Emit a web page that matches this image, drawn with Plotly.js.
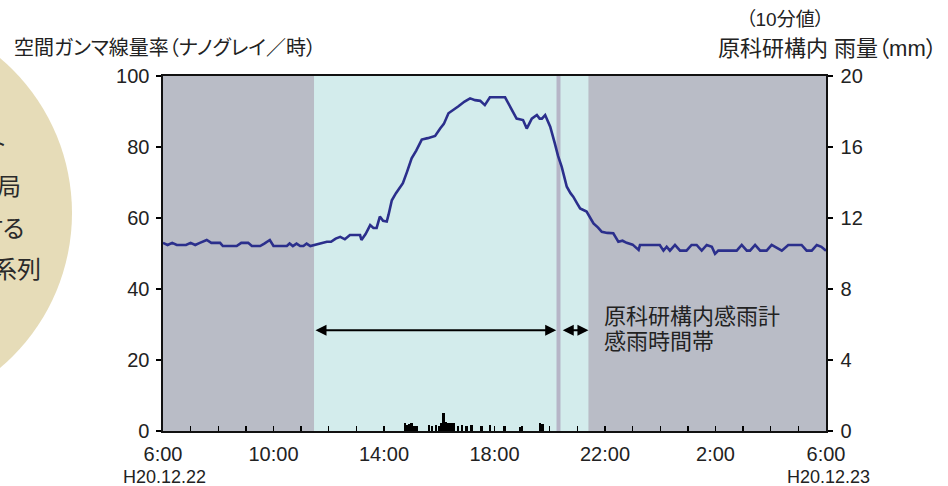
<!DOCTYPE html>
<html><head><meta charset="utf-8">
<script src="https://cdn.plot.ly/plotly-3.0.1.min.js"></script>
<style>
html,body{margin:0;padding:0;background:#fff;}
text{font-feature-settings:"palt" 1;}
</style>
</head><body>
<div id="chart" style="width:948px;height:486px;"></div>
<script>
// Air dose rate (nGy/h), 10-minute values
const doseTimes = [
'2008-12-22 06:00','2008-12-22 06:10','2008-12-22 06:20','2008-12-22 06:30','2008-12-22 06:40','2008-12-22 06:50',
'2008-12-22 07:00','2008-12-22 07:10','2008-12-22 07:20','2008-12-22 07:35','2008-12-22 07:45','2008-12-22 08:04',
'2008-12-22 08:10','2008-12-22 08:40','2008-12-22 08:50','2008-12-22 09:05','2008-12-22 09:13','2008-12-22 09:31',
'2008-12-22 09:40','2008-12-22 09:52','2008-12-22 10:00','2008-12-22 10:29','2008-12-22 10:35','2008-12-22 10:42',
'2008-12-22 10:50','2008-12-22 10:58','2008-12-22 11:05','2008-12-22 11:12','2008-12-22 11:20','2008-12-22 11:28',
'2008-12-22 11:40','2008-12-22 11:56','2008-12-22 12:05','2008-12-22 12:15','2008-12-22 12:25','2008-12-22 12:35',
'2008-12-22 12:46','2008-12-22 13:08','2008-12-22 13:11','2008-12-22 13:20','2008-12-22 13:30','2008-12-22 13:37',
'2008-12-22 13:44','2008-12-22 13:51','2008-12-22 13:58','2008-12-22 14:06','2008-12-22 14:10','2008-12-22 14:17',
'2008-12-22 14:26','2008-12-22 14:35','2008-12-22 14:41','2008-12-22 14:50','2008-12-22 15:00','2008-12-22 15:10',
'2008-12-22 15:22','2008-12-22 15:35','2008-12-22 15:51','2008-12-22 16:02','2008-12-22 16:10','2008-12-22 16:20',
'2008-12-22 16:30','2008-12-22 16:41','2008-12-22 16:55','2008-12-22 17:07','2008-12-22 17:18','2008-12-22 17:29',
'2008-12-22 17:39','2008-12-22 17:50','2008-12-22 18:23','2008-12-22 18:35','2008-12-22 18:48','2008-12-22 19:02',
'2008-12-22 19:10','2008-12-22 19:21','2008-12-22 19:32','2008-12-22 19:38','2008-12-22 19:43','2008-12-22 19:50',
'2008-12-22 20:01','2008-12-22 20:11','2008-12-22 20:18','2008-12-22 20:26','2008-12-22 20:37','2008-12-22 20:45',
'2008-12-22 20:51','2008-12-22 21:00','2008-12-22 21:06','2008-12-22 21:20','2008-12-22 21:35','2008-12-22 21:45',
'2008-12-22 21:53','2008-12-22 22:05','2008-12-22 22:18','2008-12-22 22:23','2008-12-22 22:29','2008-12-22 22:38',
'2008-12-22 22:47','2008-12-22 23:00','2008-12-22 23:13','2008-12-22 23:16','2008-12-22 23:59',
'2008-12-23 00:07','2008-12-23 00:14','2008-12-23 00:21','2008-12-23 00:32','2008-12-23 00:43','2008-12-23 00:57',
'2008-12-23 01:08','2008-12-23 01:19','2008-12-23 01:30','2008-12-23 01:41','2008-12-23 01:52','2008-12-23 01:59',
'2008-12-23 02:06','2008-12-23 02:46','2008-12-23 02:57','2008-12-23 03:08','2008-12-23 03:15','2008-12-23 03:26',
'2008-12-23 03:37','2008-12-23 03:51','2008-12-23 04:02','2008-12-23 04:13','2008-12-23 04:24','2008-12-23 04:38',
'2008-12-23 05:07','2008-12-23 05:18','2008-12-23 05:29','2008-12-23 05:40','2008-12-23 05:50','2008-12-23 06:00'
];
const doseValues = [
53.0,52.4,53.0,52.4,52.4,52.4,
53.0,52.4,53.0,53.8,53.0,53.0,
52.1,52.1,53.0,53.0,52.1,52.1,
52.8,53.8,52.1,52.1,52.8,52.1,
52.8,52.1,52.1,52.8,52.1,52.4,
52.8,53.3,53.3,54.2,54.7,54.0,
55.2,55.2,53.8,55.5,58.0,57.2,
57.2,60.4,59.2,59.0,61.0,65.0,
67.0,68.8,69.8,73.0,76.8,79.0,
82.1,82.5,83.1,85.2,86.5,89.5,
90.3,91.4,92.8,93.7,93.2,93.0,
91.8,94.0,94.0,91.0,88.0,87.6,
85.2,88.0,89.0,88.0,88.0,89.0,
85.7,81.0,77.5,74.4,68.8,67.0,
66.0,64.0,62.7,61.8,58.5,57.3,
56.1,55.8,55.7,54.6,53.3,53.6,
53.0,52.5,51.0,52.4,52.4,
50.8,51.9,50.8,52.4,50.8,50.8,
52.4,52.4,50.8,52.4,51.9,49.9,
50.8,50.8,52.4,50.8,50.8,52.4,
50.8,50.8,52.4,51.5,50.8,52.4,
52.4,50.8,50.8,52.4,51.9,50.8
];
// Rainfall (mm) at the JAEA site
const rainTimes = [
'2008-12-22 14:46','2008-12-22 14:50','2008-12-22 14:55','2008-12-22 15:00','2008-12-22 15:06','2008-12-22 15:11',
'2008-12-22 15:38','2008-12-22 15:44','2008-12-22 15:53','2008-12-22 15:59','2008-12-22 16:04','2008-12-22 16:09',
'2008-12-22 16:14','2008-12-22 16:20','2008-12-22 16:25','2008-12-22 16:31','2008-12-22 16:41','2008-12-22 16:49',
'2008-12-22 16:58','2008-12-22 17:10','2008-12-22 17:32','2008-12-22 17:50','2008-12-22 18:22','2008-12-22 18:55',
'2008-12-22 19:39','2008-12-22 19:44'
];
const rainValues = [
0.45,0.35,0.40,0.45,0.30,0.30,
0.35,0.30,0.35,0.30,0.45,1.00,
0.50,0.45,0.45,0.45,0.30,0.35,
0.30,0.35,0.30,0.35,0.30,0.25,
0.45,0.40
];
// Rain-sensor periods
const rainPeriodStart = '2008-12-22 11:28';
const rainPeriodBreak = '2008-12-22 20:19';
const rainPeriodEnd = '2008-12-22 21:24';
const arrowOneEnd = '2008-12-22 20:14';
const arrowTwoStart = '2008-12-22 20:25';
const arrowY = 28.4;
// Axis ticks
const xRange = ['2008-12-22 06:00','2008-12-23 06:00'];
const xTickVals = ['2008-12-22 06:00','2008-12-22 10:00','2008-12-22 14:00','2008-12-22 18:00','2008-12-22 22:00','2008-12-23 02:00','2008-12-23 06:00'];
const xTickText = ['6:00','10:00','14:00','18:00','22:00','2:00','6:00'];
const dateLabels = ['H20.12.22','H20.12.23'];
const circleLines = ['モニタリングポスト','観測局','に関する','時系列'];

const FONT = 'Liberation Sans, Noto Sans CJK JP, sans-serif';
const TXT = '#222';
const W = 948, H = 486, ML = 163, MR = 122, MT = 76, MB = 55;
const PW = W - ML - MR, PH = H - MT - MB;
const px = x => (x - ML) / PW;
const py = y => (H - MB - y) / PH;

const traces = [
  {type:'scatter', mode:'lines', x:doseTimes, y:doseValues, xaxis:'x', yaxis:'y',
   line:{color:'#2b2f8c', width:2.6}, hoverinfo:'skip'},
  {type:'bar', x:rainTimes, y:rainValues, xaxis:'x', yaxis:'y2', width:330000,
   marker:{color:'#000', line:{width:0}}, hoverinfo:'skip'}
];

const annotations = [
  {xref:'paper', yref:'paper', x:px(12), y:py(48), xanchor:'left', yanchor:'middle', showarrow:false,
   text:'空間ガンマ線量率（ナノグレイ／時）', font:{family:FONT, size:20, color:TXT}},
  {xref:'paper', yref:'paper', x:px(744), y:py(20), xanchor:'left', yanchor:'middle', showarrow:false,
   text:'（10分値）', font:{family:FONT, size:19, color:TXT}},
  {xref:'paper', yref:'paper', x:px(716), y:py(48), xanchor:'left', yanchor:'middle', showarrow:false,
   text:'原科研構内 雨量（mm）', font:{family:FONT, size:22, color:TXT}},
  {xref:'paper', yref:'paper', x:px(602), y:py(316), xanchor:'left', yanchor:'middle', showarrow:false,
   text:'原科研構内感雨計', font:{family:FONT, size:22, color:TXT}},
  {xref:'paper', yref:'paper', x:px(602), y:py(341), xanchor:'left', yanchor:'middle', showarrow:false,
   text:'感雨時間帯', font:{family:FONT, size:22, color:TXT}},
  {xref:'paper', yref:'paper', x:px(164), y:py(477), xanchor:'center', yanchor:'middle', showarrow:false,
   text:dateLabels[0], font:{family:FONT, size:18, color:TXT}},
  {xref:'paper', yref:'paper', x:px(828), y:py(477), xanchor:'center', yanchor:'middle', showarrow:false,
   text:dateLabels[1], font:{family:FONT, size:18, color:TXT}},
  {xref:'x', yref:'y', x:arrowOneEnd, y:arrowY, axref:'x', ayref:'y', ax:rainPeriodStart, ay:arrowY,
   text:'', showarrow:true, arrowside:'end+start', arrowhead:2, arrowsize:1.1, arrowwidth:2, arrowcolor:'#000'},
  {xref:'x', yref:'y', x:rainPeriodEnd, y:arrowY, axref:'x', ayref:'y', ax:arrowTwoStart, ay:arrowY,
   text:'', showarrow:true, arrowside:'end+start', arrowhead:2, arrowsize:1.1, arrowwidth:2, arrowcolor:'#000'}
];
const circleRight = [8, 23, 26, 43];
const circleY = [143, 186, 228, 269];
circleLines.forEach((t, i) => {
  annotations.push({xref:'paper', yref:'paper', x:px(circleRight[i]), y:py(circleY[i]), xanchor:'right', yanchor:'middle',
    showarrow:false, text:t, font:{family:FONT, size:24, color:'#2a2a2a'}});
});

const shapes = [
  {type:'circle', xref:'paper', yref:'paper', x0:px(-334), x1:px(72), y0:py(416), y1:py(10),
   fillcolor:'#e6dcb8', line:{width:0}, layer:'below'},
  {type:'rect', xref:'x', yref:'paper', x0:rainPeriodStart, x1:rainPeriodEnd, y0:0, y1:1,
   fillcolor:'#d3ecec', line:{width:0}, layer:'below'},
  {type:'line', xref:'x', yref:'paper', x0:rainPeriodBreak, x1:rainPeriodBreak, y0:0, y1:1,
   line:{color:'#b6b5c7', width:4}, layer:'below'}
];

const layout = {
  width:W, height:H, margin:{l:ML, r:MR, t:MT, b:MB, pad:0},
  paper_bgcolor:'#fff', plot_bgcolor:'#b9bcc6', showlegend:false,
  font:{family:FONT, color:TXT},
  bargap:0,
  xaxis:{type:'date', range:xRange, tickmode:'array', tickvals:xTickVals, ticktext:xTickText,
    ticks:'inside', ticklen:5, tickwidth:1.3, tickcolor:'#000',
    minor:{dtick:3600000, tick0:'2008-12-22 06:00', ticks:'inside', ticklen:5, tickwidth:1.3, tickcolor:'#000', showgrid:false},
    showline:true, linecolor:'#111', linewidth:1.6, mirror:true, showgrid:false, zeroline:false,
    tickfont:{family:FONT, size:20, color:TXT}, ticklabelstandoff:4, fixedrange:true},
  yaxis:{range:[0,100], tickmode:'array', tickvals:[0,20,40,60,80,100], ticks:'outside', ticklen:5, tickwidth:1.3, tickcolor:'#000',
    showline:true, linecolor:'#111', linewidth:1.6, showgrid:false, zeroline:false,
    tickfont:{family:FONT, size:20, color:TXT}, ticklabelstandoff:3, fixedrange:true},
  yaxis2:{range:[0,20], overlaying:'y', side:'right', tickmode:'array', tickvals:[0,4,8,12,16,20],
    ticks:'outside', ticklen:5, tickwidth:1.3, tickcolor:'#000',
    showline:true, linecolor:'#111', linewidth:1.6, showgrid:false, zeroline:false,
    tickfont:{family:FONT, size:20, color:TXT}, ticklabelstandoff:4, fixedrange:true},
  annotations:annotations, shapes:shapes
};
Plotly.newPlot('chart', traces, layout, {staticPlot:true, displayModeBar:false});
</script>
</body></html>
